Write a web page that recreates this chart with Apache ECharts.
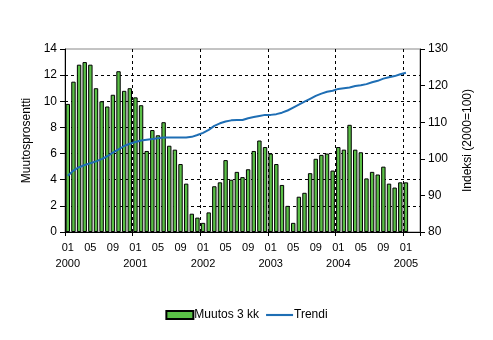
<!DOCTYPE html>
<html><head><meta charset="utf-8">
<script src="https://cdn.jsdelivr.net/npm/echarts@6/dist/echarts.min.js"></script>
<style>html,body{margin:0;padding:0;background:#fff}#c{width:493px;height:340px}</style>
</head><body><div id="c"></div>
<script>
// categories: monthly Jan 2000 .. Mar 2005 (last two empty slots)
const years = ['2000','2001','2002','2003','2004','2005'];
const monthCodes = ['01','02','03','04','05','06','07','08','09','10','11','12'];
const categories = [];
for (const y of years) for (const m of monthCodes) { if (categories.length < 63) categories.push(y + '-' + m); }

const muutos3kk = [
  9.8, 11.5, 12.8, 13.0, 12.8, 11.0, 10.0, 9.6, 10.5, 12.3, 10.8, 11.0,
  10.3, 9.7, 6.2, 7.8, 7.4, 8.4, 6.6, 6.3, 5.2, 3.7, 1.4, 1.1,
  0.7, 1.5, 3.5, 3.8, 5.5, 4.0, 4.6, 4.2, 4.8, 6.2, 7.0, 6.5,
  6.0, 5.2, 3.6, 2.0, 0.7, 2.7, 3.0, 4.5, 5.6, 5.9, 6.0, 4.7,
  6.5, 6.3, 8.2, 6.3, 6.1, 4.1, 4.6, 4.4, 5.0, 3.7, 3.4, 3.8,
  3.8, null, null
];
const trendi = [
  95.4, 96.8, 97.7, 98.3, 98.8, 99.3, 99.9, 100.7, 101.7, 102.6, 103.5, 104.1,
  104.6, 105.0, 105.2, 105.4, 105.6, 105.8, 105.8, 105.8, 105.8, 105.8, 106.0, 106.5,
  107.1, 107.9, 109.0, 109.7, 110.2, 110.5, 110.6, 110.6, 111.1, 111.4, 111.7, 112.0,
  112.0, 112.2, 112.6, 113.2, 114.0, 114.8, 115.6, 116.4, 117.2, 117.8, 118.3, 118.6,
  119.1, 119.3, 119.5, 119.9, 120.1, 120.4, 120.9, 121.3, 121.9, 122.3, 122.6, 123.1,
  123.5, null, null
];
const leftTicks = {min: 0, max: 14, interval: 2};
const rightTicks = {min: 80, max: 130, interval: 10};

const font = 'Arial, "Liberation Sans", sans-serif';
const chart = echarts.init(document.getElementById('c'), null, {renderer: 'canvas'});
chart.setOption({
  animation: false,
  textStyle: {fontFamily: font},
  grid: {left: 65, right: 73, top: 49, bottom: 108, show: true, borderColor: '#888', borderWidth: 1, backgroundColor: 'transparent'},
  legend: {
    bottom: 14, left: 'center', itemWidth: 27, itemHeight: 8, itemGap: 7,
    symbolKeepAspect: true,
    textStyle: {fontFamily: font, fontSize: 12, color: '#000', padding: [0, 0, 0, -4]},
    data: [
      {name: 'Muutos 3 kk', icon: 'rect'},
      {name: 'Trendi', icon: 'path://M0,0h28v2.2h-28z', itemStyle: {color: '#1e6eb4', borderWidth: 0}}
    ]
  },
  xAxis: {
    type: 'category', data: categories, boundaryGap: true,
    axisLine: {lineStyle: {color: '#000', width: 1}},
    axisTick: {show: true, length: 4, interval: (i) => i % 12 === 0, lineStyle: {color: '#000'}},
    splitLine: {show: true, interval: (i) => i % 12 === 0 && i > 0, lineStyle: {color: '#000', type: [3, 3], width: 1}},
    axisLabel: {
      interval: 3, color: '#000', fontSize: 11, lineHeight: 16, margin: 8, fontFamily: font,
      formatter: (v) => { const p = v.split('-'); return p[1] === '01' ? p[1] + '\n' + p[0] : p[1]; }
    }
  },
  yAxis: [
    {
      type: 'value', min: leftTicks.min, max: leftTicks.max, interval: leftTicks.interval,
      name: 'Muutosprosentti', nameLocation: 'middle', nameGap: 32,
      nameTextStyle: {color: '#000', fontSize: 12, fontFamily: font},
      axisLine: {show: true, lineStyle: {color: '#000'}},
      axisTick: {show: true, length: 5, lineStyle: {color: '#000'}},
      axisLabel: {color: '#000', fontSize: 12, margin: 8, fontFamily: font},
      splitLine: {show: true, lineStyle: {color: ['#000','#000','#000','#000','#000','#000','#000','rgba(0,0,0,0)'], type: [3, 3], width: 1}}
    },
    {
      type: 'value', min: rightTicks.min, max: rightTicks.max, interval: rightTicks.interval, position: 'right',
      name: 'Indeksi (2000=100)', nameLocation: 'middle', nameGap: 42, nameRotate: 90,
      nameTextStyle: {color: '#000', fontSize: 12, fontFamily: font},
      axisLine: {show: true, lineStyle: {color: '#000'}},
      axisTick: {show: true, length: 5, lineStyle: {color: '#000'}},
      axisLabel: {color: '#000', fontSize: 12, margin: 8, fontFamily: font},
      splitLine: {show: false}
    }
  ],
  series: [
    {
      name: 'Muutos 3 kk', type: 'bar', yAxisIndex: 0, data: muutos3kk,
      barCategoryGap: '22%',
      itemStyle: {color: '#5abf46', borderColor: '#000', borderWidth: 1}
    },
    {
      name: 'Trendi', type: 'line', yAxisIndex: 1, data: trendi,
      symbol: 'none', showSymbol: false, connectNulls: false,
      lineStyle: {color: '#1e6eb4', width: 2},
      itemStyle: {color: '#1e6eb4'}, z: 5
    }
  ]
});
</script></body></html>
